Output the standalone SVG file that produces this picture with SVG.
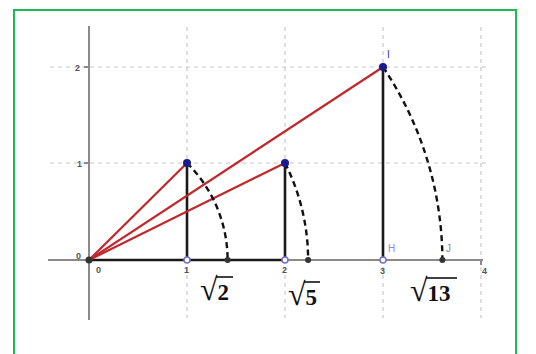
<svg xmlns="http://www.w3.org/2000/svg" width="536" height="354" viewBox="0 0 536 354">
<style>
.grid{stroke:#c8c8c8;stroke-width:1.2;stroke-dasharray:4 4;fill:none}
.axis{stroke:#8a8a8a;stroke-width:2;fill:none}
.red{stroke:#c0282d;stroke-width:2.2;fill:none}
.seg{stroke:#1a1a1a;stroke-width:2.6;fill:none}
.arc{stroke:#111;stroke-width:2.4;stroke-dasharray:6 4;fill:none}
.tick{font-family:"Liberation Sans",Arial,sans-serif;font-size:9px;font-weight:bold;fill:#555}
.rad{font-family:"Liberation Serif","Times New Roman",serif;font-size:23px;font-weight:bold;fill:#111}
.rs{font-size:32px;font-weight:normal}
.bar{stroke:#111;stroke-width:1.6}
.lbl{font-family:"Liberation Sans",Arial,sans-serif;font-size:10px}
</style>
<rect x="14" y="10" width="502" height="350" fill="#fff" stroke="#1db954" stroke-width="2"/>
<g id="grid">
<line class="grid" x1="50" y1="67" x2="490" y2="67"/>
<line class="grid" x1="50" y1="163" x2="490" y2="163"/>
<line class="grid" x1="187" y1="27" x2="187" y2="318"/>
<line class="grid" x1="285" y1="27" x2="285" y2="318"/>
<line class="grid" x1="383" y1="27" x2="383" y2="318"/>
<line class="grid" x1="481" y1="27" x2="481" y2="318"/>
</g>
<g id="axes">
<line class="axis" x1="89" y1="26" x2="89" y2="320"/>
<line class="axis" x1="48" y1="260" x2="483" y2="260"/>
<line class="axis" x1="84" y1="67" x2="89" y2="67"/>
<line class="axis" x1="84" y1="163" x2="89" y2="163"/>
<line class="axis" x1="481" y1="260" x2="481" y2="265"/>
</g>
<g id="connectors">
<line class="seg" x1="89" y1="260" x2="285" y2="260"/>
<line class="seg" x1="187" y1="163" x2="187" y2="260"/>
<line class="seg" x1="285" y1="163" x2="285" y2="260"/>
<line class="seg" x1="383" y1="67" x2="383" y2="260"/>
<line class="red" x1="89" y1="260" x2="187" y2="163"/>
<line class="red" x1="89" y1="260" x2="285" y2="163"/>
<line class="red" x1="89" y1="260" x2="383" y2="67"/>
<path class="arc" d="M187,163 A138.6,137.2 0 0 1 227.6,260"/>
<path class="arc" d="M285,163 A219.1,216.9 0 0 1 308.1,260"/>
<path class="arc" d="M383,67 A353.4,349.8 0 0 1 442.4,260"/>
</g>
<g id="points">
<circle cx="89" cy="260" r="3.5" fill="#333"/>
<circle cx="187" cy="163" r="4" fill="#1a1a8c"/>
<circle cx="285" cy="163" r="4" fill="#1a1a8c"/>
<circle cx="383" cy="67" r="4" fill="#1a1a8c"/>
<circle cx="187" cy="260" r="3" fill="#fff" stroke="#7070d0" stroke-width="1.5"/>
<circle cx="285" cy="260" r="3" fill="#fff" stroke="#7070d0" stroke-width="1.5"/>
<circle cx="383" cy="260" r="3" fill="#fff" stroke="#7070d0" stroke-width="1.5"/>
<circle cx="227.6" cy="260" r="3" fill="#333"/>
<circle cx="308.1" cy="260" r="3" fill="#333"/>
<circle cx="442.4" cy="260" r="3" fill="#333"/>
</g>
<g id="labels">
<text class="tick" x="76" y="259">0</text>
<text class="tick" x="77" y="167">1</text>
<text class="tick" x="75" y="71">2</text>
<text class="tick" x="96" y="273">0</text>
<text class="tick" x="184" y="273">1</text>
<text class="tick" x="282" y="273">2</text>
<text class="tick" x="380" y="274">3</text>
<text class="tick" x="482" y="274">4</text>
<text class="lbl" x="387" y="58" fill="#3030b0">I</text>
<text class="lbl" x="388" y="252" fill="#8a8ae0">H</text>
<text class="lbl" x="446" y="252" fill="#888">J</text>
<text class="rad" x="200" y="300"><tspan class="rs">√</tspan>2</text>
<text class="rad" x="288" y="305"><tspan class="rs">√</tspan>5</text>
<text class="rad" x="410" y="301"><tspan class="rs">√</tspan>13</text>
<line class="bar" x1="216" y1="277" x2="233" y2="277"/>
<line class="bar" x1="304" y1="282" x2="320" y2="282"/>
<line class="bar" x1="426" y1="278" x2="457" y2="278"/>
</g>
</svg>
